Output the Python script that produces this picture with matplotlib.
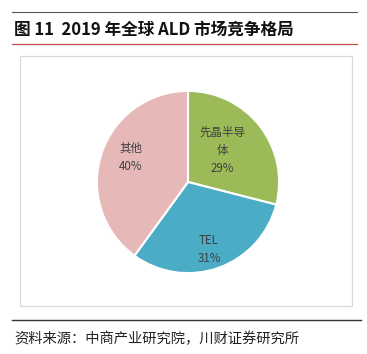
import matplotlib
matplotlib.use("Agg")
import matplotlib.pyplot as plt
from matplotlib.patches import Rectangle
from matplotlib.lines import Line2D

plt.rcParams['font.family'] = ['Noto Sans CJK SC', 'DejaVu Sans']

# data
labels = ['先晶半导\n体', 'TEL', '其他']
shares = [29, 31, 40]
colors = ['#9BBB59', '#4BACC6', '#E6B9B8']
# label offsets inside the pie (axes units of radius)
label_pos = [(0.38, 0.35), (0.23, -0.74), (-0.63, 0.27)]

fig = plt.figure(figsize=(3.67, 3.54), dpi=100)

# header / footer rules
fig.add_artist(Line2D([12/367, 357/367], [1-12/354, 1-12/354], color='#555555', lw=0.8))
fig.add_artist(Line2D([12/367, 357/367], [1-44/354, 1-44/354], color='#C0504D', lw=0.9))
fig.add_artist(Line2D([12/367, 361/367], [1-320/354, 1-320/354], color='#333333', lw=1.0))
fig.add_artist(Rectangle((20/367, 1-306/354), 332/367, 250/354, fill=False,
                         edgecolor='#D9D9D9', lw=0.9, transform=fig.transFigure))

fig.text(14/367, 1-30/354, '图 11  2019 年全球 ALD 市场竞争格局', fontsize=12,
         fontweight='bold', va='center', ha='left', color='#111111')
fig.text(14/367, 1-339/354, '资料来源：中商产业研究院，川财证券研究所', fontsize=10.3,
         style='italic', va='center', ha='left', color='#222222')

ax = fig.add_axes([(188-92)/367, 1-(182+92)/354, 184/367, 184/354])
ax.pie(shares, colors=colors, startangle=90, counterclock=False,
       wedgeprops=dict(edgecolor='white', linewidth=1.5))
ax.set_xlim(-1.01, 1.01)
ax.set_ylim(-1.01, 1.01)
ax.set_aspect('equal')

for lab, s, (x, y) in zip(labels, shares, label_pos):
    ax.text(x, y, f'{lab}\n{s}%', ha='center', va='center', fontsize=8.3,
            color='#404040', linespacing=1.5)

fig.savefig('out.png', dpi=100)
